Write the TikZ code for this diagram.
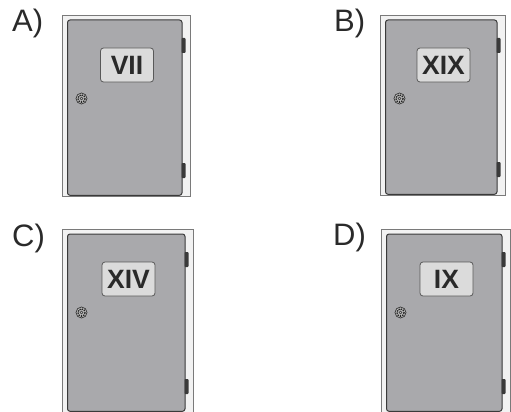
\documentclass[tikz,border=0pt]{standalone}
\usepackage{fontspec}
\setmainfont{Liberation Sans}
\definecolor{framefill}{RGB}{242,242,242}
\definecolor{frameline}{RGB}{122,122,122}
\definecolor{doorfill}{RGB}{169,169,172}
\definecolor{doorline}{RGB}{58,58,58}
\definecolor{platefill}{RGB}{219,219,219}
\definecolor{ink}{RGB}{42,42,42}
\tikzset{
  frame/.style={draw=frameline, fill=framefill, line width=0.8pt},
  door/.style={draw=doorline, fill=doorfill, line width=1pt, rounded corners=2.5pt},
  hinge/.style={fill=doorline, rounded corners=0.8pt},
  plate/.style={draw=black!65, fill=platefill, rounded corners=3pt, line width=0.8pt,
    minimum width=53pt, minimum height=34pt, inner sep=0pt,
    text=ink, font=\fontsize{26.5}{26.5}\selectfont\bfseries},
  lock/.style={draw=black!80, fill=black!25, line width=0.7pt},
  tag/.style={anchor=base west, inner sep=0pt, text=ink, font=\fontsize{31}{31}\selectfont}
}
% #1,#2 top left of the frame, #3 width, #4 height, #5 numeral, #6 name
\newcommand{\locker}[6]{%
  \begin{scope}[shift={(#1,#2)}]
    \draw[frame] (0,0) rectangle (#3,#4); % frame
    \draw[door] (5.5,5) rectangle ({#3-8},{#4-0.7}); % door
    \fill[hinge] ({#3-8.5},23) rectangle ({#3-4.5},38); % upper hinge
    \fill[hinge] ({#3-8.5},{#4-33}) rectangle ({#3-4.5},{#4-18}); % lower hinge
    \node[plate] (plate#6) at ({#3/2+1},50) {#5}; % number plate
    \draw[lock] (19.5,83.5) circle (5.5); % lock
    \draw[black!85, densely dotted, line width=1.4pt] (19.5,83.5) circle (3.6);
    \draw[black!80, line width=0.6pt] (19.5,83.5) circle (1.5); % keyhole
  \end{scope}}

\begin{document}
\begin{tikzpicture}[x=1pt, y=-1pt]
  \useasboundingbox (0,0) rectangle (511,412);
  \locker{62}{15}{128}{181}{VII}{A} % door A
  \locker{380}{15}{125}{180}{XIX}{B} % door B
  \locker{62}{229}{131}{183}{XIV}{C} % door C
  \locker{381}{229}{129}{183}{IX}{D} % door D
  \node[tag] (tagA) at (12,32) {A)};
  \node[tag] (tagB) at (334,32) {B)};
  \node[tag] (tagC) at (12,246) {C)};
  \node[tag] (tagD) at (333,245) {D)};
\end{tikzpicture}
\end{document}
